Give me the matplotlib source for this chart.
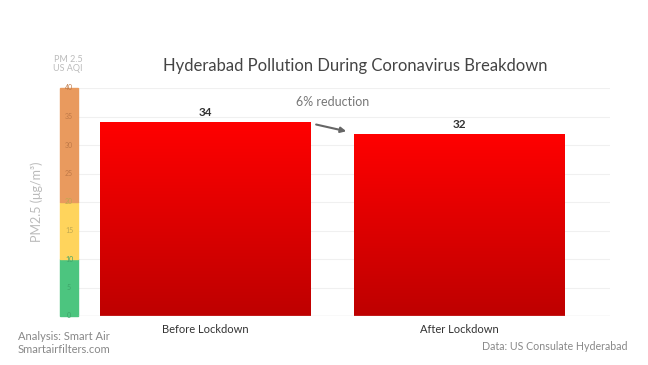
import numpy as np
import matplotlib
matplotlib.use('Agg')
import matplotlib.pyplot as plt
from matplotlib.colors import LinearSegmentedColormap
from matplotlib.patches import Rectangle
import matplotlib.transforms as mtransforms

plt.rcParams['font.family'] = ['Lato', 'DejaVu Sans']

# data
categories = ['Before Lockdown', 'After Lockdown']
pm25 = [34, 32]
reduction_label = '6% reduction'
aqi_bands = [(0, 10, '#4CC57F'), (10, 20, '#FFD45C'), (20, 40, '#E99A5E')]
yticks = list(range(0, 45, 5))

fig = plt.figure(figsize=(6.48, 3.65), dpi=100)
ax = fig.add_axes([60 / 648, 49 / 365, 550 / 648, 228 / 365])

x = np.arange(len(categories))
bars = ax.bar(x, pm25, width=0.83, color='none', zorder=2)

# red vertical gradient inside each bar
grad_cmap = LinearSegmentedColormap.from_list('reds', ['#BE0000', '#FF0000'])
grad = np.linspace(0, 1, 256).reshape(-1, 1)
for bar in bars:
    x0, y0 = bar.get_x(), bar.get_y()
    w, h = bar.get_width(), bar.get_height()
    im = ax.imshow(grad, cmap=grad_cmap, origin='lower', aspect='auto',
                   extent=[x0, x0 + w, y0, y0 + h], zorder=2)
    im.set_clip_path(bar)
ax.set_xlim(-0.573, 1.593)
ax.set_ylim(0, 40)

# AQI colour band on the left
trans = mtransforms.blended_transform_factory(ax.transAxes, ax.transData)
band_w = 18 / 550
for lo, hi, col in aqi_bands:
    ax.add_patch(Rectangle((0, lo), band_w, hi - lo, color=col,
                           transform=trans, zorder=1, clip_on=False))

# gridlines and tick labels inside the band
for t in yticks:
    ax.plot([band_w, 1], [t, t], transform=trans, color='#F0F0F0', lw=0.8, zorder=0)
    ax.text(band_w / 2, t, str(t), transform=trans, ha='center', va='center',
            fontsize=5, color='#C07A48' if t > 20 else '#C0A850' if t > 10 else '#3FA56A',
            zorder=3)
ax.plot([band_w, 1], [0, 0], transform=trans, color='#DDDDDD', lw=0.9, zorder=3)

for s in ax.spines.values():
    s.set_visible(False)
ax.set_yticks([])
ax.set_xticks(x)
ax.set_xticklabels(categories, fontsize=8, color='#333333')
ax.tick_params(axis='x', length=0, pad=6)

# value labels
for bar, v in zip(bars, pm25):
    ax.text(bar.get_x() + bar.get_width() / 2, v + 0.7, str(v), ha='center',
            va='bottom', fontsize=8.5, fontweight='bold', color='#333333')

# reduction annotation
ax.text(0.5, 37.5, reduction_label, ha='center', va='center',
        fontsize=9, color='#777777')
ax.annotate('', xy=(1 - 0.83 / 2 - 0.02, pm25[1] + 0.3),
            xytext=(0.83 / 2 + 0.01, pm25[0] - 0.3),
            arrowprops=dict(arrowstyle='-|>', color='#666666', lw=1.5,
                            mutation_scale=8))

ax.set_ylabel('PM2.5 (μg/m³)', fontsize=9, color='#BBBBBB', labelpad=12)

fig.text(355 / 648, 1 - 66 / 365, 'Hyderabad Pollution During Coronavirus Breakdown',
         ha='center', va='center', fontsize=12, color='#444444')
fig.text(68 / 648, 1 - 64 / 365, 'PM 2.5\nUS AQI', ha='center', va='center',
         fontsize=6.5, color='#BBBBBB', linespacing=1.1)
fig.text(18 / 648, 1 - 343 / 365, 'Analysis: Smart Air\nSmartairfilters.com',
         ha='left', va='center', fontsize=8, color='#888888', linespacing=1.3)
fig.text(627 / 648, 1 - 346 / 365, 'Data: US Consulate Hyderabad',
         ha='right', va='center', fontsize=7.7, color='#888888')

fig.savefig('out.png', dpi=100, facecolor='white')
